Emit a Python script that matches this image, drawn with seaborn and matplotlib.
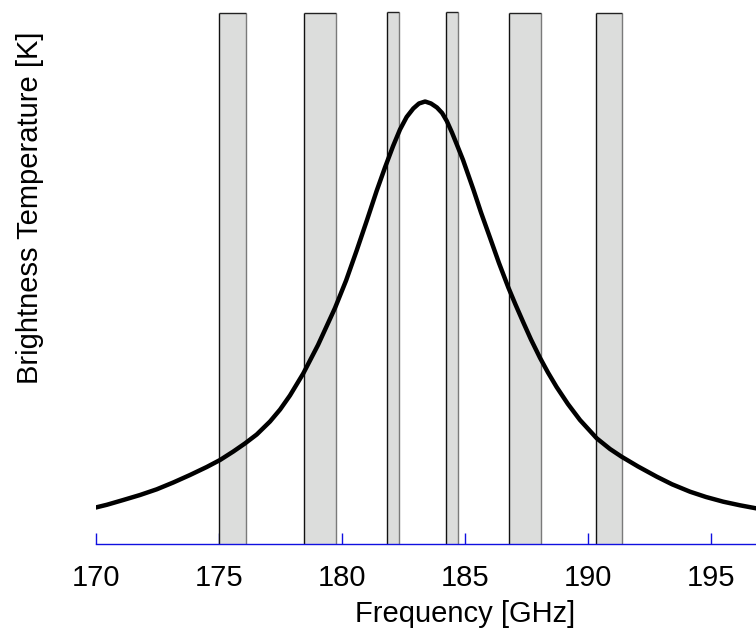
import matplotlib
matplotlib.use("Agg")
import matplotlib.pyplot as plt
import seaborn as sns
import pandas as pd

# ---- data (y in relative brightness units) ----
freq_ghz = [170.00, 170.45, 171.12, 171.80, 172.48, 173.15, 173.83, 174.51,
            175.05, 175.59, 176.06, 176.54, 177.08, 177.49, 177.89, 178.43,
            179.03, 179.72, 180.17, 180.60, 181.02, 181.41, 181.75, 182.08,
            182.36, 182.63, 182.90, 183.13, 183.38, 183.62, 183.86, 184.07,
            184.26, 184.47, 184.66, 184.92, 185.34, 185.65, 186.02, 186.38,
            186.76, 187.05, 187.37, 187.68, 188.05, 188.37, 188.72, 189.18,
            189.67, 190.35, 190.89, 191.36, 192.03, 192.79, 193.41, 194.14,
            194.79, 195.49, 196.17, 196.82, 197.20]
tb_rel = [36.8, 39.5, 44.3, 49.3, 55.0, 61.8, 69.3, 77.3,
          84.3, 92.8, 100.8, 109.8, 122.8, 134.8, 148.8, 170.8,
          199.3, 236.3, 263.8, 293.8, 324.3, 353.3, 376.8, 398.3,
          414.8, 427.3, 435.8, 440.8, 442.8, 440.8, 436.8, 431.3,
          423.3, 411.8, 400.3, 384.3, 354.8, 331.8, 306.3, 281.3,
          256.8, 239.8, 221.8, 204.8, 186.3, 171.8, 157.3, 140.3,
          124.3, 106.0, 95.3, 87.6, 77.8, 67.6, 60.0, 52.6,
          47.3, 42.6, 39.0, 36.0, 35.3]

band_lo = [175.00, 178.45, 181.83, 184.24, 186.80, 190.33]
band_hi = [176.09, 179.76, 182.31, 184.70, 188.09, 191.39]
band_top = [531.0, 531.0, 532.6, 532.6, 531.0, 531.0]

xticks = [170, 175, 180, 185, 190, 195]
y_range = [0, 544.3]

sns.set_style("white")
plt.rcParams['font.family'] = ['Liberation Sans', 'DejaVu Sans']

fig = plt.figure(figsize=(7.56, 6.44), dpi=100)
ax = fig.add_axes([95.7 / 756, 99.7 / 644, 738.6 / 756, 544.3 / 644])

# channel passbands
widths = [h - l for l, h in zip(band_lo, band_hi)]
ax.bar(band_lo, band_top, width=widths, align='edge', color='#dcdddc',
       edgecolor='none', zorder=1)
ax.vlines(band_lo, 0, band_top, colors='#111111', linewidth=1.0, zorder=1.5)
ax.vlines(band_hi, 0, band_top, colors='#7a7a7a', linewidth=1.0, zorder=1.5)
ax.hlines(band_top, band_lo, band_hi, colors='#222222', linewidth=1.0, zorder=1.5)

df = pd.DataFrame({"freq": freq_ghz, "tb": tb_rel})
sns.lineplot(data=df, x="freq", y="tb", color='black', linewidth=3.2,
             sort=False, estimator=None, ax=ax, zorder=3)

ax.set_xlim(170, 200)
ax.set_ylim(*y_range)
ax.set_yticks([])
ax.set_xticks(xticks)
ax.set_xticklabels([str(t) for t in xticks])

for s in ['top', 'left', 'right']:
    ax.spines[s].set_visible(False)
ax.spines['bottom'].set_color('#1010e0')
ax.spines['bottom'].set_linewidth(1.0)
ax.spines['bottom'].set_zorder(4)

ax.tick_params(axis='x', which='major', bottom=True, direction='in', length=8,
               width=1.0, color='#1010e0', labelsize=21, labelcolor='black', pad=14)
ax.set_xlabel("Frequency [GHz]", fontsize=21, color='black')
ax.xaxis.set_label_coords(465 / 756, 1 - 614 / 644, transform=fig.transFigure)
ax.xaxis.label.set_verticalalignment('center')
ax.set_ylabel("")
fig.text(30 / 756, 1 - 208 / 644, "Brightness Temperature [K]", rotation=90,
         ha='center', va='center', fontsize=21, color='black')

fig.savefig("out.png", dpi=100)
